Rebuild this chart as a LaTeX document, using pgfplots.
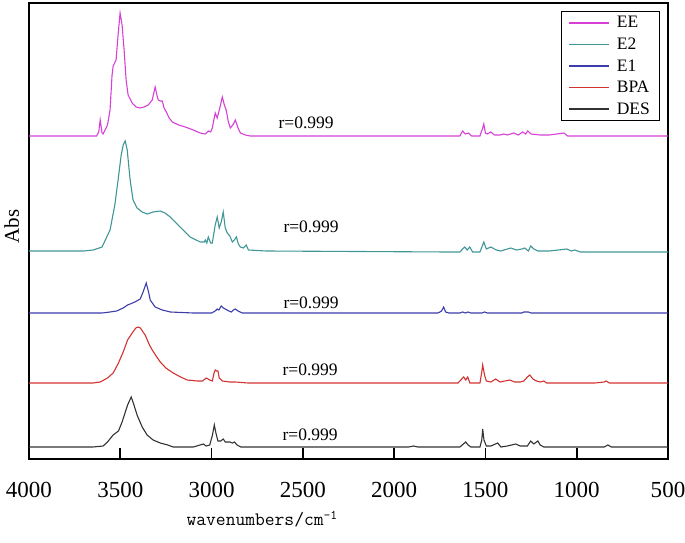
\documentclass[border=0pt]{standalone}
\usepackage{fontspec}
\setmainfont{Liberation Serif}
\usepackage{pgfplots}
\pgfplotsset{compat=1.18}
\definecolor{cEE}{RGB}{214,64,214}
\definecolor{cE2}{RGB}{64,150,150}
\definecolor{cE1}{RGB}{60,60,170}
\definecolor{cBPA}{RGB}{210,50,50}
\definecolor{cDES}{RGB}{50,50,50}
\begin{document}
\begin{tikzpicture}
\useasboundingbox (0,0) rectangle (685pt,542pt);
\begin{axis}[
  at={(29pt,83pt)}, anchor=south west,
  scale only axis, width=639pt, height=456pt,
  x dir=reverse, xmin=500, xmax=4000, ymin=0, ymax=456,
  xtick={4000,3500,3000,2500,2000,1500,1000,500},
  ytick=\empty,
  xtick pos=left, xtick align=inside,
  major tick length=11pt,
  axis line style={line width=1.6pt},
  xtick style={draw=black, line width=1.6pt},
  /pgf/number format/assume math mode=true,
  /pgf/number format/1000 sep={},
  xticklabel style={font=\fontsize{23}{25}\selectfont, yshift=-20pt},
  xlabel={wavenumbers/cm\textsuperscript{-1}},
  xlabel style={font=\fontsize{19}{22}\selectfont\ttfamily, at={(axis description cs:0.365,-0.1316)}, anchor=center},
  ylabel={Abs},
  ylabel style={font=\fontsize{21}{24}\selectfont, at={(axis description cs:-0.027,0.51)}, anchor=center},
  legend style={at={(rel axis cs:0.8326,0.982)}, anchor=north west,
    font=\fontsize{17.5}{20}\selectfont, draw=black, line width=0.6pt,
    inner xsep=7pt, inner ysep=3pt, row sep=4.5pt,
    /tikz/every odd column/.append style={column sep=5pt}},
  legend cell align=left,
  legend image code/.code={\draw[#1, line width=1.5pt] (0pt,0pt) -- (40pt,0pt);},
  every axis plot/.append style={line width=1.1pt},
]
\addplot[cEE] coordinates {
(4000,323)(3700,323)(3630,323)(3618,327)(3610,339)(3600,326)(3594,325)(3570,334)(3556,349)(3545,384)(3539,393)(3523,399)(3512,424)(3501,446)(3490,434)(3479,409)(3468,379)(3457,364)(3435,356)(3413,352)(3391,351)(3369,352)(3347,354)(3325,359)(3309,372)(3298,363)(3292,359)(3281,358)(3270,358)(3260,351)(3248,347)(3232,341)(3215,337)(3180,334)(3144,332)(3100,329)(3062,326)(3034,325)(3018,328)(3005,327)(2996,331)(2980,346)(2969,341)(2955,351)(2941,362)(2930,354)(2920,349)(2908,337)(2897,331)(2880,335)(2870,339)(2855,331)(2842,326)(2815,324)(2788,323)(1700,323)(1640,323)(1625,328)(1610,325)(1592,326)(1575,323)(1530,323)(1515,331)(1509,335)(1500,326)(1490,325)(1471,327)(1450,324)(1420,324)(1400,325)(1380,324)(1345,326)(1320,324)(1296,327)(1280,325)(1268,328)(1250,325)(1200,324)(1150,324)(1070,326)(1050,323)(900,323)(500,323)
};
\addlegendentry{EE}
\addplot[cE2] coordinates {
(4000,208)(3700,208)(3649,209)(3600,212)(3556,229)(3530,254)(3512,279)(3495,304)(3484,314)(3473,318)(3462,309)(3446,279)(3430,259)(3408,251)(3380,247)(3353,245)(3320,247)(3281,248)(3255,246)(3226,242)(3200,237)(3172,232)(3117,222)(3062,217)(3040,217)(3034,219)(3026,216)(3018,222)(3005,216)(2996,216)(2980,234)(2969,242)(2958,231)(2947,237)(2936,247)(2925,231)(2914,226)(2900,223)(2886,217)(2875,219)(2864,222)(2853,215)(2842,212)(2825,211)(2810,214)(2798,209)(2700,208)(1700,207)(1640,207)(1614,212)(1600,209)(1586,212)(1570,207)(1530,207)(1509,217)(1495,210)(1471,212)(1440,209)(1416,208)(1361,211)(1330,209)(1300,210)(1284,211)(1265,208)(1252,213)(1235,210)(1213,208)(1150,208)(1054,210)(1030,208)(1010,209)(980,207)(500,207)
};
\addlegendentry{E2}
\addplot[cE1] coordinates {
(4000,146)(3600,146)(3556,147)(3520,148)(3484,151)(3460,154)(3446,155)(3420,157)(3391,160)(3375,167)(3358,176)(3345,167)(3336,159)(3309,152)(3270,149)(3226,147)(3100,146)(3000,146)(2990,147)(2980,148)(2969,150)(2960,149)(2947,153)(2935,151)(2925,150)(2905,148)(2892,147)(2880,149)(2870,150)(2855,148)(2831,146)(1760,146)(1740,148)(1729,152)(1718,147)(1700,146)(1640,146)(1625,147)(1610,146)(1595,147)(1580,146)(1520,146)(1504,147)(1490,146)(1300,146)(1290,147)(1265,147)(1250,146)(500,146)
};
\addlegendentry{E1}
\addplot[cBPA] coordinates {
(4000,76)(3650,76)(3610,77)(3570,81)(3539,86)(3510,96)(3484,107)(3460,119)(3435,126)(3415,131)(3402,132)(3390,131)(3364,124)(3340,114)(3325,109)(3300,102)(3281,97)(3250,91)(3210,86)(3170,82)(3133,79)(3078,78)(3050,78)(3029,81)(3010,79)(2996,78)(2985,87)(2980,89)(2972,88)(2965,88)(2958,81)(2940,78)(2900,77)(2870,77)(2800,76)(1650,76)(1625,81)(1619,82)(1608,79)(1597,82)(1585,76)(1530,76)(1520,87)(1515,94)(1505,84)(1495,78)(1470,77)(1444,80)(1420,77)(1367,79)(1340,77)(1310,77)(1290,78)(1270,82)(1257,84)(1240,80)(1220,78)(1200,77)(1180,78)(1165,76)(900,76)(850,77)(840,78)(820,76)(500,76)
};
\addlegendentry{BPA}
\addplot[cDES] coordinates {
(4000,12)(3650,12)(3594,13)(3570,17)(3539,24)(3510,28)(3490,37)(3460,54)(3440,62)(3425,54)(3408,44)(3380,32)(3353,24)(3320,19)(3281,16)(3240,14)(3210,12)(3100,12)(3045,15)(3030,13)(3010,14)(2995,24)(2985,34)(2975,25)(2965,18)(2950,18)(2936,20)(2925,17)(2900,17)(2885,16)(2875,17)(2860,14)(2840,12)(1920,12)(1894,13)(1870,12)(1640,12)(1608,17)(1595,14)(1580,12)(1530,12)(1520,19)(1515,30)(1508,19)(1495,13)(1470,13)(1433,16)(1415,12)(1380,13)(1334,15)(1310,13)(1270,13)(1252,18)(1235,15)(1213,18)(1200,14)(1180,12)(850,12)(829,14)(810,12)(500,12)
};
\addlegendentry{DES}
\begin{scope}[every node/.style={font=\fontsize{17.5}{20}\selectfont, anchor=base west, inner sep=0pt}]
\node at (axis cs:2634,331) {r=0.999};
\node at (axis cs:2607,227) {r=0.999};
\node at (axis cs:2607,151) {r=0.999};
\node at (axis cs:2612,84) {r=0.999};
\node at (axis cs:2612,19) {r=0.999};
\end{scope}
\end{axis}
\end{tikzpicture}
\end{document}
